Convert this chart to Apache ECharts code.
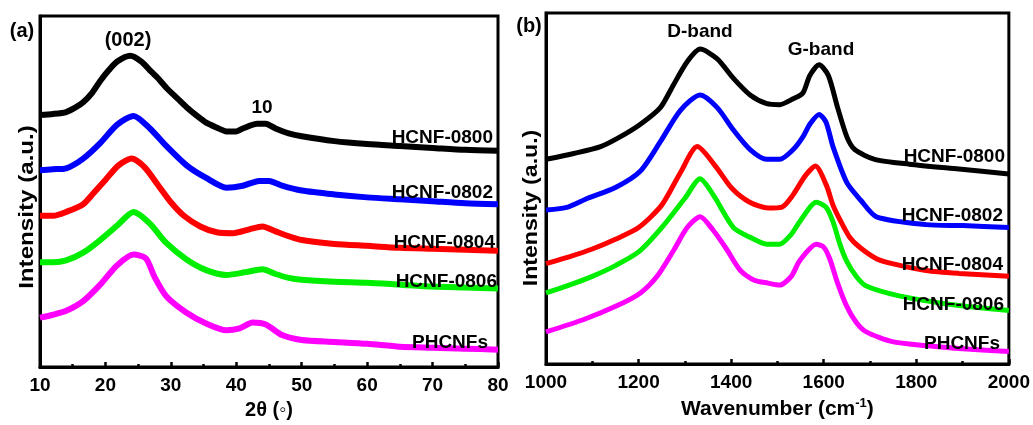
<!DOCTYPE html>
<html><head><meta charset="utf-8">
<script src="https://cdn.jsdelivr.net/npm/echarts@6/dist/echarts.min.js"></script>
<style>html,body{margin:0;padding:0;background:#fff}#c{width:1033px;height:425px}</style>
</head><body><div id="c"></div>
<script>
// ---- data ----
const sampleNames = ['HCNF-0800', 'HCNF-0802', 'HCNF-0804', 'HCNF-0806', 'PHCNFs'];
const sampleColors = ['#000000', '#0000ff', '#ff0000', '#00ee00', '#ff00ff'];

// (a) XRD: 2θ (degrees) and offset intensity (a.u.)
const xrdTheta0800 = [10,12,14,15.5,16.6,18,19.2,20.5,21.8,23.8,25.5,26.8,28,29.3,31,32.4,34,35.4,37,38.5,40,41,43.2,44.5,46,48,50,55,60,65,70,75,80];
const xrdInt0800   = [260,261,263,268,273,283,295,306,315,321,315,306,298,288,277,268,259,252,247,243,243,246,251,251,246,241,238,233,230,228,226,224,223];
const xrdTheta0802 = [10,12,14,16.6,19.2,21.8,24.3,26.8,29.3,32.4,35.4,38.5,41,43.5,45,47,50,55,60,65,70,75,80];
const xrdInt0802   = [203,204,205,215,231,250,259,246,228,208,195,185,187,192,192,187,182,178,175,173,171,169,168];
const xrdTheta0804 = [10,12,14,16.6,18,20,22,24,26,28,30,32,34.5,37,39.5,42,44,46,48,50,55,60,65,70,75,80];
const xrdInt0804   = [156,156,160,168,178,193,208,215,206,188,170,156,145,139,138,142,145,140,135,131,127,125,123,122,121,120];
const xrdTheta0806 = [10,12,14,16.6,19.2,21.8,24.3,26.8,29.3,32.4,35.4,38.5,41.5,44,46,48,50,55,60,65,70,75,80];
const xrdInt0806   = [108,108,110,118,131,146,160,148,128,111,100,95,98,101,96,92,90,88,87,85,83,82,81];
const xrdThetaPH   = [10,12,14,16.6,19.2,21.8,24.3,26.2,27.5,29.3,32.4,35.4,38.5,40.5,42.5,44.5,47,50,55,60,65,70,75,80];
const xrdIntPH     = [51,54,58,68,85,105,116,112,93,73,56,45,38,40,46,44,33,28,26,24,21,20,19,18];

// (b) Raman: wavenumber (cm-1) and offset intensity (a.u.)
const ramWn0800  = [1000,1060,1118,1160,1204,1247,1275,1305,1333,1370,1405,1441,1477,1505,1534,1555,1570,1590,1610,1630,1650,1667,1710,1785,1892,2000];
const ramInt0800 = [210,216,223,233,246,263,286,310,323,313,293,276,267,266,272,278,296,307,296,263,233,220,210,205,200,195];
const ramWn0802  = [1000,1047,1090,1150,1204,1247,1290,1333,1370,1405,1441,1477,1505,1534,1555,1570,1590,1605,1620,1650,1680,1714,1821,1900,2000];
const ramInt0802 = [158,161,170,181,198,228,260,276,263,240,220,210,210,220,233,246,256,248,223,186,168,151,143,142,140];
const ramWn0804  = [1000,1050,1100,1150,1200,1250,1290,1327,1366,1402,1440,1480,1510,1533,1560,1582,1606,1620,1635,1656,1677,1714,1748,1821,1892,2000];
const ramInt0804 = [103,110,118,128,140,163,196,223,203,180,166,160,161,173,193,203,183,163,148,130,120,108,103,96,93,90];
const ramWn0806  = [1000,1050,1100,1150,1200,1250,1300,1333,1362,1405,1441,1477,1505,1530,1548,1584,1605,1620,1635,1649,1670,1692,1763,1892,2000];
const ramInt0806 = [73,81,90,101,115,140,170,190,173,140,130,123,123,133,146,166,161,146,123,106,90,80,70,60,55];
const ramWnPH    = [1000,1083,1154,1204,1240,1275,1305,1333,1360,1390,1420,1450,1480,1505,1530,1548,1584,1600,1613,1630,1649,1670,1692,1748,1821,1892,2000];
const ramIntPH   = [33,46,60,73,90,116,140,151,138,118,96,86,83,81,90,106,123,120,108,83,60,43,33,23,19,16,13];

const xrdTicks = [10, 80, 10];      // min, max, interval
const ramTicks = [1000, 2000, 200];

const xrdX = [xrdTheta0800, xrdTheta0802, xrdTheta0804, xrdTheta0806, xrdThetaPH];
const xrdY = [xrdInt0800, xrdInt0802, xrdInt0804, xrdInt0806, xrdIntPH];
const ramX = [ramWn0800, ramWn0802, ramWn0804, ramWn0806, ramWnPH];
const ramY = [ramInt0800, ramInt0802, ramInt0804, ramInt0806, ramIntPH];

const zip = (a, b) => a.map((v, i) => [v, b[i]]);
const FONT = "'Liberation Sans', Arial, sans-serif";

const xAxisCommon = (idx, t) => ({
  type: 'value', gridIndex: idx, min: t[0], max: t[1], interval: t[2],
  axisLine: { show: true, onZero: false, lineStyle: { color: '#000', width: 3 } },
  axisTick: { show: true, inside: true, length: 5, lineStyle: { color: '#000', width: 2.5 } },
  minorTick: { show: true, splitNumber: 2, length: 3, lineStyle: { color: '#000', width: 2.5 } },
  splitLine: { show: false },
  axisLabel: { color: '#000', fontFamily: FONT, fontWeight: 'bold', fontSize: 19, margin: 9,
               formatter: v => String(v) }
});
const yAxisCommon = (idx, max) => ({
  type: 'value', gridIndex: idx, min: 0, max: max,
  axisLine: { show: true, lineStyle: { color: '#000', width: 3 } },
  axisTick: { show: false }, axisLabel: { show: false }, splitLine: { show: false }
});

const series = [];
for (let i = 0; i < 5; i++) {
  series.push({ type: 'line', name: sampleNames[i] + ' XRD', xAxisIndex: 0, yAxisIndex: 0,
    data: zip(xrdX[i], xrdY[i]), showSymbol: false, smooth: 0.25,
    lineStyle: { color: sampleColors[i], width: 6 }, z: 10 - i });
  series.push({ type: 'line', name: sampleNames[i] + ' Raman', xAxisIndex: 1, yAxisIndex: 1,
    data: zip(ramX[i], ramY[i]), showSymbol: false, smooth: 0.25,
    lineStyle: { color: sampleColors[i], width: 5 }, z: 10 - i });
}

const txt = (x, y, s, align, size) => ({
  type: 'text', x: x, y: y, z: 100,
  style: { text: s, fill: '#000', font: 'bold ' + (size || 19) + 'px ' + FONT,
           textAlign: align || 'center', textVerticalAlign: 'middle' }
});

const graphic = [
  txt(22, 31, '(a)', 'center', 20),
  txt(529, 26, '(b)', 'center', 20),
  txt(128, 40, '(002)', 'center', 20),
  txt(262, 108, '10', 'center', 19),
  txt(700, 32, 'D-band', 'center', 19),
  txt(821, 50, 'G-band', 'center', 19),
  txt(493, 138, sampleNames[0], 'right'), txt(493, 193, sampleNames[1], 'right'),
  txt(495, 243, sampleNames[2], 'right'), txt(497, 282, sampleNames[3], 'right'),
  txt(488, 343, sampleNames[4], 'right'),
  txt(1005, 157, sampleNames[0], 'right'), txt(1003, 216, sampleNames[1], 'right'),
  txt(1003, 265, sampleNames[2], 'right'), txt(1004, 305, sampleNames[3], 'right'),
  txt(1000, 344, sampleNames[4], 'right'),
  { type: 'text', x: 27, y: 207, rotation: Math.PI / 2, scaleX: 1.15, z: 100,
    style: { text: 'Intensity (a.u.)', fill: '#000', font: 'bold 21px ' + FONT,
             textAlign: 'center', textVerticalAlign: 'middle' } },
  { type: 'text', x: 531, y: 208, rotation: Math.PI / 2, scaleX: 1.1, z: 100,
    style: { text: 'Intensity (a.u.)', fill: '#000', font: 'bold 21px ' + FONT,
             textAlign: 'center', textVerticalAlign: 'middle' } }
];

const chart = echarts.init(document.getElementById('c'), null, { renderer: 'canvas' });
chart.setOption({
  backgroundColor: '#fff',
  animation: false,
  grid: [
    { left: 40, top: 16, width: 458, height: 362, show: true, borderColor: '#000', borderWidth: 3, backgroundColor: 'transparent' },
    { left: 546, top: 13, width: 464, height: 360, show: true, borderColor: '#000', borderWidth: 3, backgroundColor: 'transparent' }
  ],
  xAxis: [
    Object.assign(xAxisCommon(0, xrdTicks), {
      name: '2θ (◦)', nameLocation: 'middle', nameGap: 28,
      nameTextStyle: { color: '#000', fontFamily: FONT, fontWeight: 'bold', fontSize: 20 } }),
    Object.assign(xAxisCommon(1, ramTicks), {
      name: '{n|Wavenumber (cm}{s|-1}{n|)}', nameLocation: 'middle', nameGap: 32,
      nameTextStyle: { color: '#000', fontFamily: FONT, fontWeight: 'bold', fontSize: 21,
        rich: { n: { fontFamily: FONT, fontWeight: 'bold', fontSize: 21, color: '#000' },
                s: { fontFamily: FONT, fontWeight: 'bold', fontSize: 13, color: '#000', verticalAlign: 'top', padding: [0, 0, 12, 0] } } } })
  ],
  yAxis: [yAxisCommon(0, 362), yAxisCommon(1, 360)],
  series: series,
  graphic: graphic
});
</script></body></html>
